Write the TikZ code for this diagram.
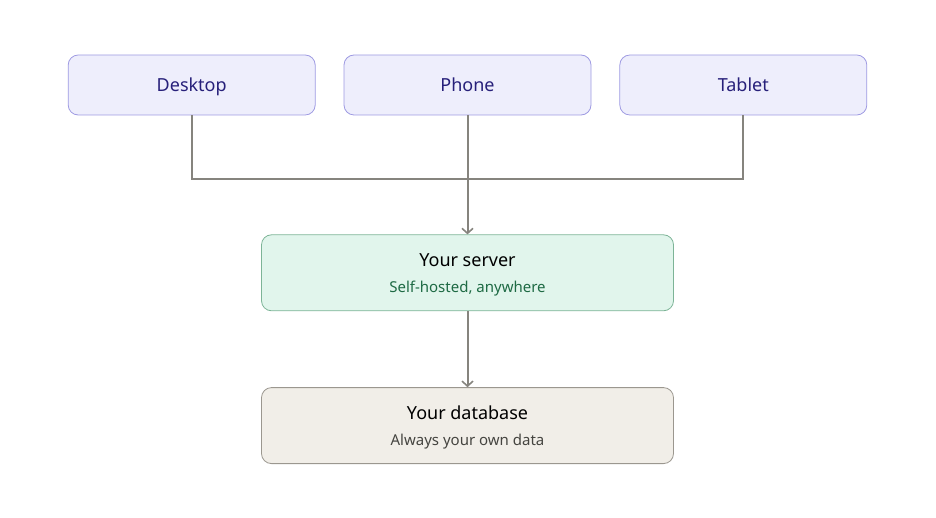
\documentclass[tikz,border=0pt]{standalone}
\usepackage{fontspec}
\setmainfont{Noto Sans}
\usepackage{xcolor}
\usetikzlibrary{arrows.meta, positioning}
\definecolor{devfill}{HTML}{EEEEFC}
\definecolor{devline}{HTML}{9E9AE2}
\definecolor{devtext}{HTML}{27207A}
\definecolor{srvfill}{HTML}{E1F5EC}
\definecolor{srvline}{HTML}{7DB497}
\definecolor{srvtext}{HTML}{1E6A44}
\definecolor{dbfill}{HTML}{F1EEE8}
\definecolor{dbline}{HTML}{9B978F}
\definecolor{dbtext}{HTML}{454440}
\definecolor{linkgray}{HTML}{86847E}
\tikzset{
    devbox/.style={rectangle, draw=devline, fill=devfill, line width=0.8pt, rounded corners=10pt, minimum width=247pt, minimum height=60pt, text height=13pt, text depth=0pt, text=devtext, font=\fontsize{18}{21}\selectfont},
    tierbox/.style={rectangle, line width=0.8pt, rounded corners=10pt, minimum width=412pt, minimum height=76pt, align=center, text depth=0pt, font=\fontsize{15}{17}\selectfont},
    link/.style={draw=linkgray, line width=2pt},
    arrow/.style={link, -{Straight Barb[length=5pt, width=11pt, line width=1.6pt]}}
}
\newcommand{\tiertitle}[1]{{\fontsize{18}{21}\selectfont #1}}
\newcommand{\tiersub}[1]{{\fontsize{15}{17}\selectfont #1}}
\begin{document}
\begin{tikzpicture}[node distance=28pt]
    \useasboundingbox (0,0) rectangle (936pt,-518pt);

    \node (phone)  [devbox] at (467.5pt,-85pt) {Phone};
    \node (desktop)[devbox, left=of phone]  {Desktop};
    \node (tablet) [devbox, right=of phone] {Tablet};
    \node (server) [tierbox, draw=srvline, fill=srvfill, below=119pt of phone]
        {\tiertitle{Your server}\\[9pt]\color{srvtext}\tiersub{Self-hosted, anywhere}};
    \node (db)     [tierbox, draw=dbline, fill=dbfill, below=76pt of server]
        {\tiertitle{Your database}\\[9pt]\color{dbtext}\tiersub{Always your own data}};

    \draw [link] (desktop.south) -- ++(0,-64pt) -| (tablet.south);
    \draw [arrow] (phone) -- (server);
    \draw [arrow] (server) -- (db);
\end{tikzpicture}
\end{document}
